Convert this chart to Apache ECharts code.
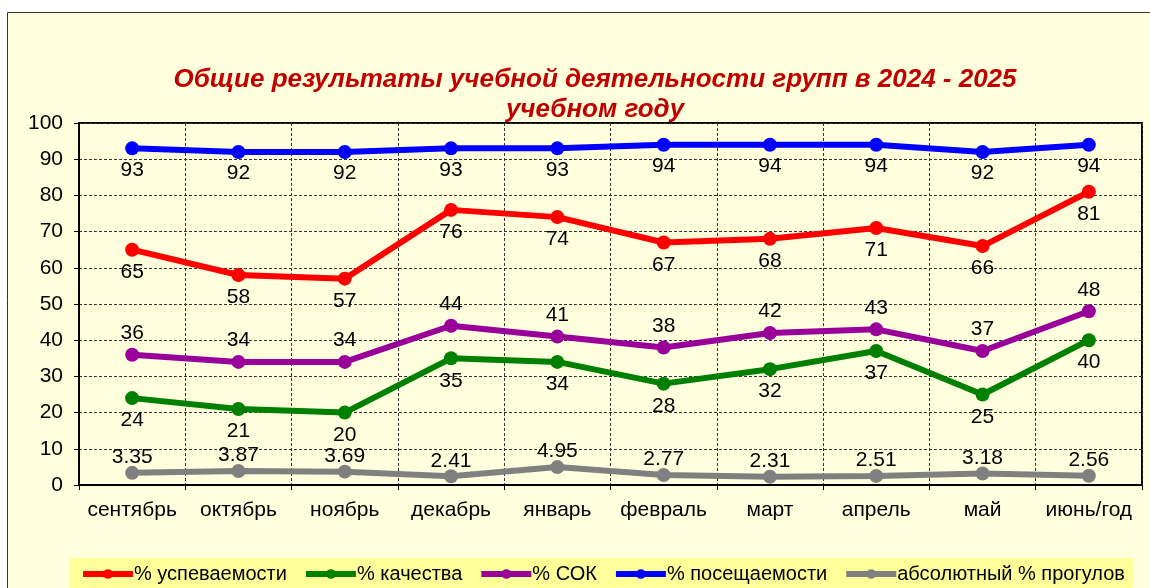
<!DOCTYPE html>
<html>
<head>
<meta charset="utf-8">
<style>
html,body{margin:0;padding:0;background:#fff}
#main{width:1150px;height:588px}
</style>
<script src="https://cdn.jsdelivr.net/npm/echarts@6/dist/echarts.min.js"></script>
</head>
<body>
<div id="main"></div>
<script>
var months = ['сентябрь', 'октябрь', 'ноябрь', 'декабрь', 'январь', 'февраль', 'март', 'апрель', 'май', 'июнь/год'];
var uspev = [65, 58, 57, 76, 74, 67, 68, 71, 66, 81];        // % успеваемости
var kach = [24, 21, 20, 35, 34, 28, 32, 37, 25, 40];         // % качества
var sok = [36, 34, 34, 44, 41, 38, 42, 43, 37, 48];          // % СОК
var poseshch = [93, 92, 92, 93, 93, 94, 94, 94, 92, 94];     // % посещаемости
var progul = [3.35, 3.87, 3.69, 2.41, 4.95, 2.77, 2.31, 2.51, 3.18, 2.56]; // абсолютный % прогулов

var myChart = echarts.init(document.getElementById('main'));

function mkSeries(name, color, data, pos, dist) {
    return {
        name: name,
        type: 'line',
        data: data,
        symbol: 'circle',
        symbolSize: 14,
        lineStyle: {width: 6, color: color},
        itemStyle: {color: color},
        label: {
            show: true,
            position: pos,
            distance: dist,
            color: '#000',
            fontSize: 21,
            fontFamily: 'Liberation Sans, Arial'
        },
        z: 3
    };
}

var option = {
    backgroundColor: '#FFFFDD',
    animation: false,
    textStyle: {fontFamily: 'Liberation Sans, Arial'},
    title: {
        text: 'Общие результаты учебной деятельности групп в 2024 - 2025\nучебном году',
        left: 590,
        top: 60,
        textAlign: 'center',
        textStyle: {
            fontSize: 26,
            fontWeight: 'bold',
            fontStyle: 'italic',
            color: '#C00000',
            lineHeight: 30,
            fontFamily: 'Liberation Sans, Arial'
        }
    },
    legend: {
        bottom: -4,
        left: 70,
        padding: [6, 8, 8, 10],
        backgroundColor: '#FFFF99',
        itemWidth: 50,
        itemHeight: 12,
        itemGap: 16,
        lineStyle: {width: 6},
        textStyle: {fontSize: 20, color: '#000', padding: [0, 0, 0, -4]},
        data: ['% успеваемости', '% качества', '% СОК', '% посещаемости', 'абсолютный % прогулов']
    },
    grid: {
        left: 79, right: 8, top: 123, bottom: 103,
        show: true,
        borderColor: '#000',
        borderWidth: 2
    },
    xAxis: {
        type: 'category',
        data: months,
        boundaryGap: true,
        axisLine: {lineStyle: {color: '#000', width: 2}},
        axisTick: {show: true, interval: 0, length: 5, lineStyle: {color: '#000'}},
        axisLabel: {color: '#000', fontSize: 21, margin: 15, interval: 0},
        splitLine: {show: true, interval: 0, lineStyle: {color: '#333', type: [3, 2], width: 1}}
    },
    yAxis: {
        type: 'value',
        min: 0,
        max: 100,
        interval: 10,
        axisLine: {show: true, lineStyle: {color: '#000', width: 2}},
        axisTick: {show: true, length: 5, lineStyle: {color: '#000'}},
        axisLabel: {color: '#000', fontSize: 21, margin: 16},
        splitLine: {show: true, lineStyle: {color: '#333', type: [3, 2], width: 1}}
    },
    graphic: [{
        type: 'rect',
        shape: {x: 7.5, y: 12.5, width: 1200, height: 700},
        style: {fill: 'none', stroke: '#333', lineWidth: 1},
        silent: true,
        z: 100
    }, {
        type: 'rect',
        shape: {x: 0, y: 0, width: 1150, height: 12},
        style: {fill: '#fff'},
        silent: true,
        z: 99
    }, {
        type: 'rect',
        shape: {x: 0, y: 0, width: 7, height: 588},
        style: {fill: '#fff'},
        silent: true,
        z: 99
    }],
    series: [
        mkSeries('% успеваемости', '#FF0000', uspev, 'bottom', 5),
        mkSeries('% качества', '#008000', kach, 'bottom', 5),
        mkSeries('% СОК', '#990099', sok, 'top', 4),
        mkSeries('% посещаемости', '#0000FF', poseshch, 'bottom', 4),
        mkSeries('абсолютный % прогулов', '#808080', progul, 'top', -2)
    ]
};

myChart.setOption(option);
window.addEventListener("resize", function () {
    myChart.resize();
});
</script>
</body>
</html>
